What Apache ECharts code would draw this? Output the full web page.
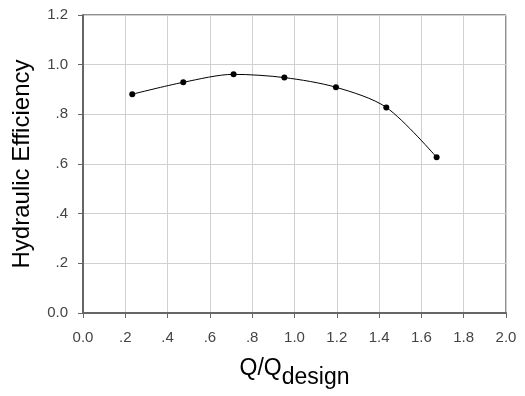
<!DOCTYPE html>
<html>
<head>
<meta charset="utf-8">
<script src="https://cdn.jsdelivr.net/npm/echarts@6/dist/echarts.min.js"></script>
<style>html,body{margin:0;padding:0;background:#fff}#c{width:525px;height:396px}</style>
</head>
<body>
<div id="c"></div>
<script>
var flowRatio = [0.233, 0.474, 0.712, 0.952, 1.196, 1.434, 1.672];
var efficiency = [0.881, 0.929, 0.961, 0.948, 0.909, 0.828, 0.627];
var xTickLabels = ['0.0', '.2', '.4', '.6', '.8', '1.0', '1.2', '1.4', '1.6', '1.8', '2.0'];
var yTickLabels = ['0.0', '.2', '.4', '.6', '.8', '1.0', '1.2'];

var chart = echarts.init(document.getElementById('c'), null, {renderer: 'canvas'});
var font = 'Liberation Sans, Arial, sans-serif';
chart.setOption({
  animation: false,
  grid: {left: 83, top: 15, right: 19, bottom: 83, show: true, borderColor: '#222', borderWidth: 1,
    containLabel: false, outerBoundsMode: 'none'},
  xAxis: {
    type: 'value', min: 0, max: 2, interval: 0.2,
    axisLine: {show: true, lineStyle: {color: '#666', width: 2}},
    axisTick: {show: true, inside: false, length: 5, lineStyle: {color: '#666'}},
    axisLabel: {color: '#444', fontFamily: font, fontSize: 15, margin: 17,
      formatter: function (v) { return xTickLabels[Math.round(v / 0.2)]; }},
    splitLine: {show: true, lineStyle: {color: '#d0d0d0', width: 1}},
    name: '{a|Q/Q}{b|design}', nameLocation: 'middle', nameGap: 44,
    nameTextStyle: {rich: {
      a: {fontFamily: font, fontSize: 23, color: '#000', verticalAlign: 'bottom', padding: [0, 0, 9, 0]},
      b: {fontFamily: font, fontSize: 23, color: '#000', verticalAlign: 'bottom'}
    }}
  },
  yAxis: {
    type: 'value', min: 0, max: 1.2, interval: 0.2,
    axisLine: {show: true, lineStyle: {color: '#666', width: 2}},
    axisTick: {show: true, inside: false, length: 5, lineStyle: {color: '#666'}},
    axisLabel: {color: '#444', fontFamily: font, fontSize: 15, margin: 15,
      formatter: function (v) { return yTickLabels[Math.round(v / 0.2)]; }},
    splitLine: {show: true, lineStyle: {color: '#d0d0d0', width: 1}},
    name: 'Hydraulic Efficiency', nameLocation: 'middle', nameGap: 49,
    nameTextStyle: {fontFamily: font, fontSize: 24, color: '#000'}
  },
  series: [{
    type: 'line',
    data: flowRatio.map(function (x, i) { return [x, efficiency[i]]; }),
    smooth: 0.3,
    symbol: 'circle', symbolSize: 6,
    itemStyle: {color: '#000'},
    lineStyle: {color: '#000', width: 1}
  }]
});
</script>
</body>
</html>
